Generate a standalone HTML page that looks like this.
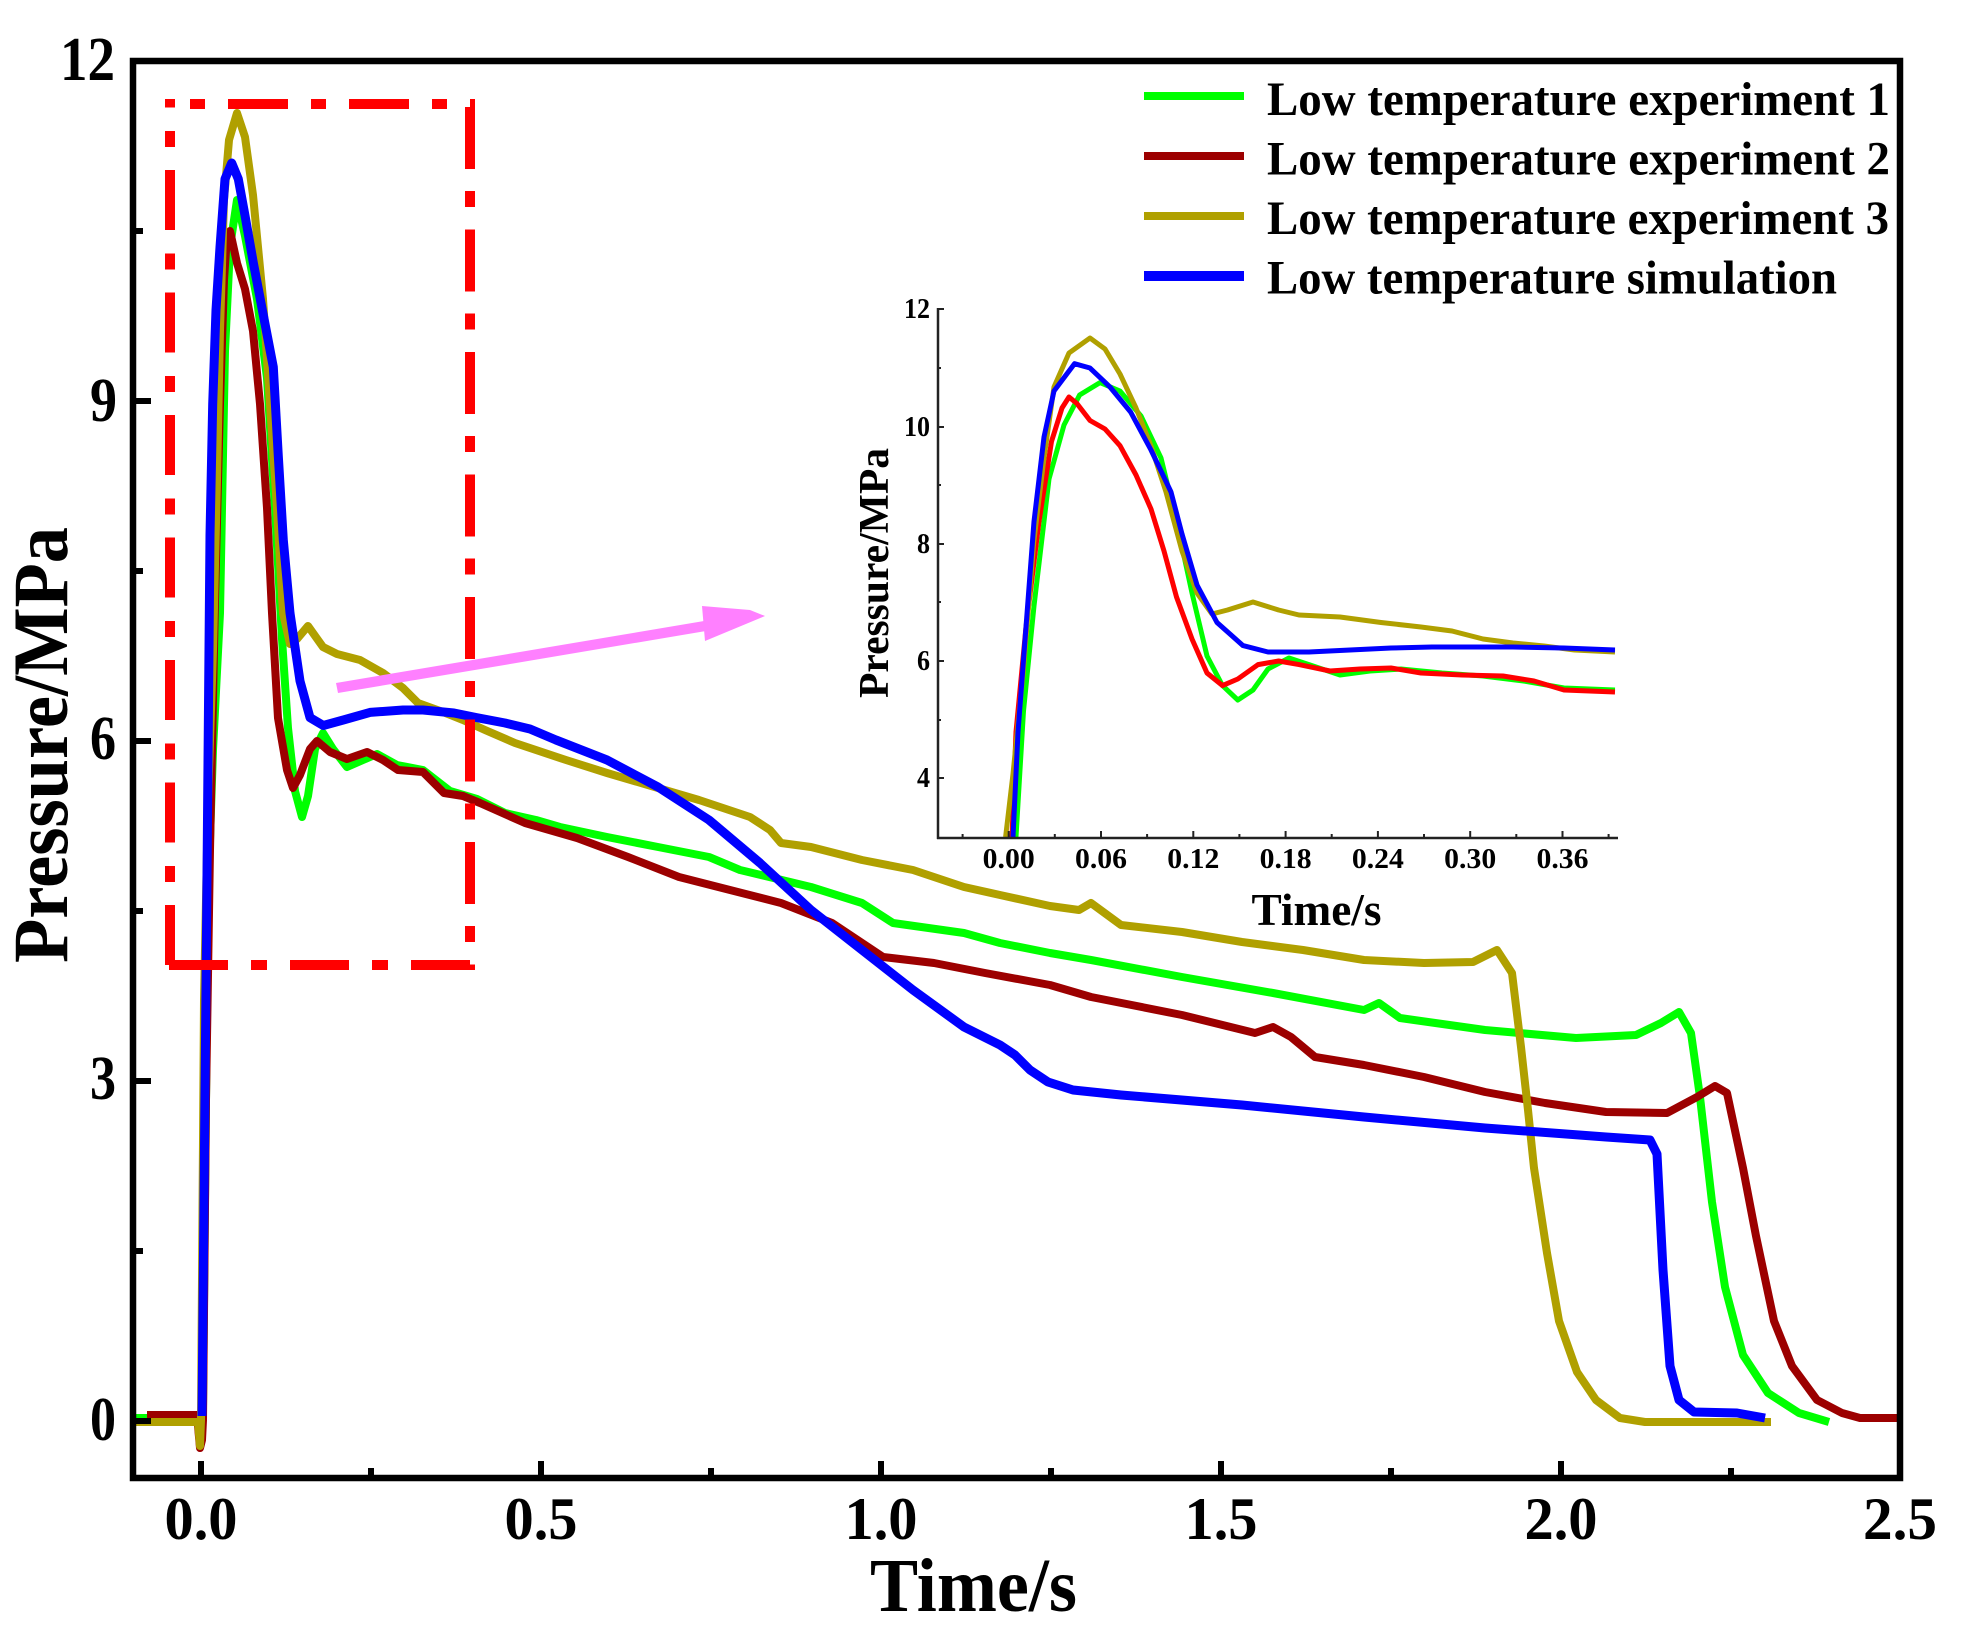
<!DOCTYPE html>
<html>
<head>
<meta charset="utf-8">
<style>
html,body{margin:0;padding:0;background:#fff;}
svg{display:block;}
text{font-family:"Liberation Serif","Times New Roman",serif;font-weight:bold;fill:#000;}
</style>
</head>
<body>
<svg width="1963" height="1634" viewBox="0 0 1963 1634" xmlns="http://www.w3.org/2000/svg">
<rect x="0" y="0" width="1963" height="1634" fill="#fff"/>

<!-- Main curves -->
<g fill="none" stroke-linejoin="round" stroke-linecap="butt">
<!-- Green: exp 1 -->
<polyline stroke="#00ff00" stroke-width="8" points="136,1418 200,1418 203,1407 205,1200 208,900 213,750 220,613 225,351 230,247 237,200 245,236 257,299 267,378 275,508 282,639 288,728 295,791 302,817 308,796 315,749 323,733 333,749 347,767 363,760 377,754 397,765 423,770 450,791 477,799 505,813 536,820 560,827 607,837 658,847 709,857 740,870 811,887 862,903 893,923 964,933 1000,943 1050,953 1091,960 1182,977 1273,993 1364,1010 1379,1003 1400,1018 1485,1030 1576,1038 1636,1035 1661,1023 1679,1012 1691,1033 1700,1097 1712,1202 1725,1287 1743,1355 1768,1393 1799,1413 1829,1422"/>
<!-- Red: exp 2 -->
<polyline stroke="#9c0000" stroke-width="8" points="147,1415 197,1415 200,1448 202,1440 203,1420 206,1100 210,850 215,600 220,404 224,280 227,236 230,231 237,263 245,289 253,331 260,404 267,508 272,613 278,718 287,770 293,788 300,775 310,749 317,741 330,752 347,759 367,752 383,760 398,770 423,772 444,793 463,796 480,803 525,823 577,838 628,857 679,877 730,890 781,903 832,923 883,957 934,963 985,973 1050,985 1091,997 1182,1015 1255,1033 1273,1027 1291,1037 1315,1057 1364,1065 1424,1077 1485,1092 1545,1103 1606,1112 1667,1113 1697,1097 1715,1086 1727,1093 1743,1168 1756,1236 1774,1321 1792,1366 1817,1400 1842,1413 1860,1418 1897,1418"/>
<!-- Yellow: exp 3 -->
<polyline stroke="#b0a000" stroke-width="8" points="133,1422 198,1422 200,1446 201,1420 204,1000 208,800 213,650 217,480 220,330 224,200 229,140 237,113 245,137 253,195 263,299 270,404 277,508 283,613 290,644 297,639 308,626 323,647 337,654 360,660 383,673 403,688 418,703 443,712 463,720 485,730 515,743 566,760 607,773 658,788 699,800 750,817 770,830 781,843 811,847 862,860 913,870 964,887 1000,895 1050,906 1079,910 1091,903 1121,925 1182,932 1242,942 1303,950 1364,960 1424,963 1473,962 1497,950 1512,973 1521,1047 1528,1110 1534,1168 1547,1253 1559,1321 1577,1372 1596,1400 1620,1418 1645,1422 1771,1422"/>
<!-- Blue: simulation -->
<polyline stroke="#0000ff" stroke-width="9" points="202,1416 204,1200 206.7,910 210,535 212.7,404 216,310 220,247 225,179 231.7,163 238.3,179 245,215.5 253.3,262.6 263.3,315 273.3,367 278.3,456 283.3,540 290,613 300,681 310,717.6 323.3,725.5 343.3,720 370,712.4 403,710 423,710 454,713 476.7,717.6 505,723 530,729 556,740 607,760 658,787 709,820 760,863 811,910 862,950 913,990 964,1027 1000,1045 1015,1055 1030,1070 1048,1082 1073,1090 1121,1095 1242,1105 1364,1117 1485,1128 1606,1137 1650,1140 1657,1154 1663,1270 1670,1366 1679,1400 1694,1412 1737,1413 1765,1418"/>
</g>

<!-- Red dash-dot box -->
<g fill="none" stroke="#ff0000" stroke-width="10">
<line x1="170" y1="965" x2="170" y2="99" stroke-dasharray="60 23 16 23.5"/>
<line x1="190" y1="104" x2="475" y2="104" stroke-dasharray="15 23 60 23"/>
<line x1="470" y1="107" x2="470" y2="970" stroke-dasharray="62 22 16 22.5"/>
<line x1="470" y1="965" x2="165" y2="965" stroke-dasharray="59 23 16 23"/>
</g>

<!-- Pink arrow -->
<g fill="#ff80ff" stroke="none">
<polygon points="336,683 704,621 706,631 338,693"/>
<polygon points="702,606 750,610 765,616 705,641"/>
</g>

<!-- Main frame -->
<rect x="133" y="61" width="1767" height="1417" fill="none" stroke="#000" stroke-width="6.5"/>

<!-- Main ticks -->
<g stroke="#000" stroke-width="6">
<line x1="136" y1="1421" x2="151" y2="1421"/>
<line x1="136" y1="1081" x2="151" y2="1081"/>
<line x1="136" y1="741" x2="151" y2="741"/>
<line x1="136" y1="401" x2="151" y2="401"/>
<line x1="136" y1="1251" x2="143" y2="1251"/>
<line x1="136" y1="911" x2="143" y2="911"/>
<line x1="136" y1="571" x2="143" y2="571"/>
<line x1="136" y1="231" x2="143" y2="231"/>
<line x1="201" y1="1475" x2="201" y2="1461"/>
<line x1="541" y1="1475" x2="541" y2="1461"/>
<line x1="881" y1="1475" x2="881" y2="1461"/>
<line x1="1221" y1="1475" x2="1221" y2="1461"/>
<line x1="1561" y1="1475" x2="1561" y2="1461"/>
<line x1="371" y1="1475" x2="371" y2="1468"/>
<line x1="711" y1="1475" x2="711" y2="1468"/>
<line x1="1051" y1="1475" x2="1051" y2="1468"/>
<line x1="1391" y1="1475" x2="1391" y2="1468"/>
<line x1="1731" y1="1475" x2="1731" y2="1468"/>
</g>

<!-- Main tick labels -->
<g font-size="62" text-anchor="end">
<text x="115" y="80" textLength="55" lengthAdjust="spacingAndGlyphs">12</text>
<text x="117" y="421" textLength="27" lengthAdjust="spacingAndGlyphs">9</text>
<text x="116" y="759" textLength="26" lengthAdjust="spacingAndGlyphs">6</text>
<text x="116" y="1099" textLength="26" lengthAdjust="spacingAndGlyphs">3</text>
<text x="116" y="1440" textLength="26" lengthAdjust="spacingAndGlyphs">0</text>
</g>
<g font-size="60" text-anchor="middle">
<text x="201" y="1539" textLength="73" lengthAdjust="spacingAndGlyphs">0.0</text>
<text x="541" y="1539" textLength="73" lengthAdjust="spacingAndGlyphs">0.5</text>
<text x="881" y="1539" textLength="73" lengthAdjust="spacingAndGlyphs">1.0</text>
<text x="1221" y="1539" textLength="73" lengthAdjust="spacingAndGlyphs">1.5</text>
<text x="1561" y="1539" textLength="73" lengthAdjust="spacingAndGlyphs">2.0</text>
<text x="1900" y="1539" textLength="74" lengthAdjust="spacingAndGlyphs">2.5</text>
</g>

<!-- Main axis titles -->
<text x="870" y="1611" font-size="76" textLength="207" lengthAdjust="spacingAndGlyphs">Time/s</text>
<text transform="translate(67,745) rotate(-90)" font-size="78" text-anchor="middle" textLength="436" lengthAdjust="spacingAndGlyphs">Pressure/MPa</text>

<!-- Legend -->
<g stroke-width="8">
<line x1="1144" y1="96" x2="1244" y2="96" stroke="#00ff00"/>
<line x1="1144" y1="156" x2="1244" y2="156" stroke="#9c0000"/>
<line x1="1144" y1="216" x2="1244" y2="216" stroke="#b0a000"/>
<line x1="1144" y1="276" x2="1244" y2="276" stroke="#0000ff" stroke-width="10"/>
</g>
<g font-size="48">
<text x="1267" y="115" textLength="623" lengthAdjust="spacingAndGlyphs">Low temperature experiment 1</text>
<text x="1267" y="174.5" textLength="623" lengthAdjust="spacingAndGlyphs">Low temperature experiment 2</text>
<text x="1267" y="234" textLength="622" lengthAdjust="spacingAndGlyphs">Low temperature experiment 3</text>
<text x="1267" y="293.5" textLength="570" lengthAdjust="spacingAndGlyphs">Low temperature simulation</text>
</g>

<!-- Inset curves -->
<g fill="none" stroke-linejoin="round" stroke-width="5">
<polyline stroke="#00ff00" points="1016,837 1023.5,711 1034,606 1049,479 1064,425 1079.6,395 1100,382.6 1120,391 1141,416 1161,458 1176.5,521.5 1192,593 1207,656 1222.5,685.6 1237.8,700 1253,690 1268,669 1289,658 1309,664.6 1340,675 1370,671 1401,669 1442,673 1483,676 1523.5,681 1564,688 1615,690"/>
<polyline stroke="#ff0000" points="1012,837 1016,732 1026,627 1039,521.5 1051.5,441.5 1062,408 1069,397 1077,403.6 1090,420.5 1105,429 1120,445.7 1136,475 1151,509 1164,551 1176.5,597 1192,639 1207,673 1222.5,685.6 1237.8,679 1258,664.6 1278.6,661 1299,664.6 1330,671 1360,669 1391,668 1421,673 1462,675 1503,676 1534,681 1564,690 1615,692"/>
<polyline stroke="#b0a000" points="1005.6,837 1013,774 1023.5,669 1033.7,542.5 1044,458 1054,387 1069,353 1090,338 1105,349 1120,374 1136,408 1151,446 1166,492 1182,551 1197,593 1212,614 1227.5,610 1253,602 1278.6,610 1299,615 1340,617 1381,622.5 1421,627 1452,631 1483,639 1513,643 1544,646 1574.5,650 1615,652"/>
<polyline stroke="#0000ff" points="1013,837 1018,732 1026,627 1034,521.5 1044,437 1054,391 1074.5,363.7 1090,368 1110,387 1130.6,412 1151,450 1171,492 1182,534 1197,585 1217,622.5 1243,645.6 1268,652 1309,652 1350,650 1391,648 1432,647 1513,647 1564,648 1615,650"/>
</g>

<!-- Inset axes -->
<g stroke="#222" stroke-width="2.5" fill="none">
<line x1="938" y1="308" x2="938" y2="839"/>
<line x1="937" y1="838" x2="1618" y2="838"/>
</g>
<g stroke="#222" stroke-width="2">
<line x1="938" y1="309" x2="944" y2="309"/>
<line x1="938" y1="427" x2="944" y2="427"/>
<line x1="938" y1="544" x2="944" y2="544"/>
<line x1="938" y1="661" x2="944" y2="661"/>
<line x1="938" y1="778" x2="944" y2="778"/>
<line x1="938" y1="368" x2="941" y2="368"/>
<line x1="938" y1="485" x2="941" y2="485"/>
<line x1="938" y1="602" x2="941" y2="602"/>
<line x1="938" y1="720" x2="941" y2="720"/>
<line x1="1008.7" y1="838" x2="1008.7" y2="831"/>
<line x1="1101" y1="838" x2="1101" y2="831"/>
<line x1="1193.3" y1="838" x2="1193.3" y2="831"/>
<line x1="1285.6" y1="838" x2="1285.6" y2="831"/>
<line x1="1377.9" y1="838" x2="1377.9" y2="831"/>
<line x1="1470.2" y1="838" x2="1470.2" y2="831"/>
<line x1="1562.5" y1="838" x2="1562.5" y2="831"/>
<line x1="962.6" y1="838" x2="962.6" y2="834"/>
<line x1="1054.8" y1="838" x2="1054.8" y2="834"/>
<line x1="1147.1" y1="838" x2="1147.1" y2="834"/>
<line x1="1239.4" y1="838" x2="1239.4" y2="834"/>
<line x1="1331.7" y1="838" x2="1331.7" y2="834"/>
<line x1="1424" y1="838" x2="1424" y2="834"/>
<line x1="1516.3" y1="838" x2="1516.3" y2="834"/>
<line x1="1608.6" y1="838" x2="1608.6" y2="834"/>
</g>

<!-- Inset tick labels -->
<g font-size="28" text-anchor="end">
<text x="930" y="318" textLength="26" lengthAdjust="spacingAndGlyphs">12</text>
<text x="930" y="436" textLength="26" lengthAdjust="spacingAndGlyphs">10</text>
<text x="930" y="553" textLength="13" lengthAdjust="spacingAndGlyphs">8</text>
<text x="930" y="670" textLength="13" lengthAdjust="spacingAndGlyphs">6</text>
<text x="930" y="787" textLength="13" lengthAdjust="spacingAndGlyphs">4</text>
</g>
<g font-size="28" text-anchor="middle">
<text x="1008.7" y="868" textLength="52" lengthAdjust="spacingAndGlyphs">0.00</text>
<text x="1101" y="868" textLength="52" lengthAdjust="spacingAndGlyphs">0.06</text>
<text x="1193.3" y="868" textLength="52" lengthAdjust="spacingAndGlyphs">0.12</text>
<text x="1285.6" y="868" textLength="52" lengthAdjust="spacingAndGlyphs">0.18</text>
<text x="1377.9" y="868" textLength="52" lengthAdjust="spacingAndGlyphs">0.24</text>
<text x="1470.2" y="868" textLength="52" lengthAdjust="spacingAndGlyphs">0.30</text>
<text x="1562.5" y="868" textLength="52" lengthAdjust="spacingAndGlyphs">0.36</text>
</g>
<text x="1251.5" y="925" font-size="45" textLength="130" lengthAdjust="spacingAndGlyphs">Time/s</text>
<text transform="translate(888,573) rotate(-90)" font-size="42" text-anchor="middle" textLength="250" lengthAdjust="spacingAndGlyphs">Pressure/MPa</text>
</svg>
</body>
</html>
